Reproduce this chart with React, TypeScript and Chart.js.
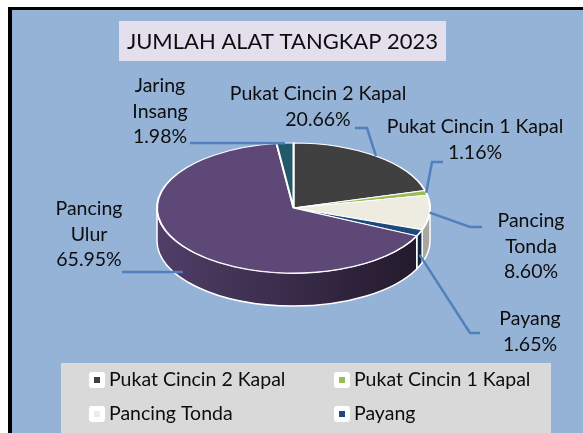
import React, { useEffect, useRef } from "react";
import { Chart, registerables } from "chart.js";

Chart.register(...registerables);

const TITLE = "JUMLAH ALAT TANGKAP 2023";
const categories = [
  "Pukat Cincin 2 Kapal",
  "Pukat Cincin 1 Kapal",
  "Pancing Tonda",
  "Payang",
  "Pancing Ulur",
  "Jaring Insang",
];
const values = [20.66, 1.16, 8.6, 1.65, 65.95, 1.98];

const topColors = ["#404040", "#9BBB59", "#EEECE1", "#1F497D", "#5E4878", "#215968"];
const sideLeft = ["#333333", "#7C9647", "#C9C7BE", "#1A3C66", "#503E68", "#1B4753"];
const sideRight = ["#1A1A1A", "#5D7035", "#A8A69E", "#10243F", "#211829", "#12323A"];

const FONT = "Lato, 'Open Sans', sans-serif";
const LABEL_SIZE = 19.5;
const TITLE_SIZE = 22;
const LINE_H = 25.5;

// label layout: text centre x, first baseline y, whether the name wraps, leader start, elbow, anchor drop
const labelLayout = [
  { cx: 318, y: 100, wrap: false, start: [355, 128], elbow: [367, 128], drop: 0 },
  { cx: 475, y: 133, wrap: false, start: [443, 162], elbow: [432, 162], drop: 0 },
  { cx: 531, y: 227, wrap: true, start: [482, 227], elbow: [470, 227], drop: 0 },
  { cx: 530, y: 325, wrap: true, start: [480, 333], elbow: [470, 333], drop: 22 },
  { cx: 89, y: 215, wrap: true, start: [122, 272], elbow: [150, 272], drop: 26 },
  { cx: 160, y: 92, wrap: true, start: [190, 143], elbow: [240, 143], drop: 0 },
];

export default function App() {
  const ref = useRef<HTMLCanvasElement>(null);

  useEffect(() => {
    const canvas = ref.current!;
    const W = 583;
    const H = 433;
    const R = 136.5;
    const K = 65 / 136.5;
    const CY_T = 208;
    const DEPTH = 33;
    const cy0 = H / 2;
    const mapY = (y: number) => CY_T + (y - cy0) * K;

    const background = {
      id: "background",
      beforeDraw(chart: any) {
        const ctx = chart.ctx as CanvasRenderingContext2D;
        ctx.save();
        ctx.fillStyle = "#ffffff";
        ctx.fillRect(0, 0, W, H);
        ctx.fillStyle = "#000000";
        ctx.fillRect(8, 7, W - 8, 3);
        ctx.fillRect(8, 7, 4, H - 7);
        ctx.fillStyle = "#95B3D7";
        ctx.fillRect(12, 10, W - 12, H - 10);

        // title box
        ctx.fillStyle = "#E4DFEC";
        ctx.fillRect(119, 21, 327, 40);
        ctx.fillStyle = "#0d0d0d";
        ctx.font = `${TITLE_SIZE}px ${FONT}`;
        ctx.textAlign = "center";
        ctx.textBaseline = "alphabetic";
        ctx.fillText(TITLE, 282.5, 49);

        // legend
        ctx.fillStyle = "#D9D9D9";
        ctx.fillRect(61, 363, 490, H - 363);
        ctx.font = `${LABEL_SIZE}px ${FONT}`;
        ctx.textAlign = "left";
        categories.forEach((name, i) => {
          const col = i % 2;
          const row = Math.floor(i / 2);
          const mx = col === 0 ? 89 : 334;
          const my = 372 + row * 34;
          if (my + 16 > H) return;
          ctx.fillStyle = "#ffffff";
          ctx.beginPath();
          (ctx as any).roundRect(mx, my, 16, 16, 3);
          ctx.fill();
          ctx.fillStyle = topColors[i];
          ctx.fillRect(mx + 5, my + 5, 6, 6);
          ctx.fillStyle = "#0d0d0d";
          ctx.fillText(name, mx + 20, my + 14);
        });
        ctx.restore();
      },
    };

    const pie3d = {
      id: "pie3d",
      beforeDatasetsDraw(chart: any) {
        const ctx = chart.ctx as CanvasRenderingContext2D;
        const arcs = chart.getDatasetMeta(0).data as any[];
        ctx.save();
        arcs.forEach((a, i) => {
          const a1 = Math.max(a.startAngle, 0);
          const a2 = Math.min(a.endAngle, Math.PI);
          if (a2 <= a1) return;
          const cx = a.x;
          const cy = mapY(a.y);
          const r = a.outerRadius;
          const ry = r * K;
          const g = ctx.createLinearGradient(cx - r, 0, cx + r, 0);
          g.addColorStop(0, sideLeft[i]);
          g.addColorStop(1, sideRight[i]);
          ctx.beginPath();
          ctx.ellipse(cx, cy, r, ry, 0, a1, a2, false);
          ctx.ellipse(cx, cy + DEPTH, r, ry, 0, a2, a1, true);
          ctx.closePath();
          ctx.fillStyle = g;
          ctx.fill();
          ctx.strokeStyle = "#ffffff";
          ctx.lineWidth = 1.5;
          ctx.stroke();
        });
        ctx.translate(0, CY_T);
        ctx.scale(1, K);
        ctx.translate(0, -cy0);
      },
      afterDatasetsDraw(chart: any) {
        chart.ctx.restore();
      },
    };

    const labels = {
      id: "labels3d",
      afterDraw(chart: any) {
        const ctx = chart.ctx as CanvasRenderingContext2D;
        const arcs = chart.getDatasetMeta(0).data as any[];
        ctx.save();
        arcs.forEach((a, i) => {
          const L = labelLayout[i];
          const lines = (L.wrap ? categories[i].split(" ") : [categories[i]]).concat(
            `${values[i].toFixed(2)}%`
          );
          const mid = (a.startAngle + a.endAngle) / 2;
          const ax = a.x + a.outerRadius * Math.cos(mid);
          const ay = mapY(a.y) + a.outerRadius * K * Math.sin(mid) + L.drop;
          ctx.strokeStyle = "#4F81BD";
          ctx.lineWidth = 2.5;
          ctx.lineJoin = "miter";
          ctx.beginPath();
          ctx.moveTo(L.start[0], L.start[1]);
          ctx.lineTo(L.elbow[0], L.elbow[1]);
          ctx.lineTo(ax, ay);
          ctx.stroke();

          ctx.fillStyle = "#0d0d0d";
          ctx.font = `${LABEL_SIZE}px ${FONT}`;
          ctx.textAlign = "center";
          ctx.textBaseline = "alphabetic";
          lines.forEach((t, j) => ctx.fillText(t, L.cx, L.y + j * LINE_H));
        });
        ctx.restore();
      },
    };

    const chart = new Chart(canvas, {
      type: "pie",
      data: {
        labels: categories,
        datasets: [
          {
            data: values,
            backgroundColor: topColors,
            borderColor: "#ffffff",
            borderWidth: 2,
            radius: R,
          } as any,
        ],
      },
      options: {
        responsive: false,
        maintainAspectRatio: false,
        animation: false,
        events: [],
        layout: { padding: { left: 157, right: 153, top: 0, bottom: 0 } },
        plugins: {
          legend: { display: false },
          title: { display: false },
          tooltip: { enabled: false },
        },
      },
      plugins: [background, pie3d, labels],
    });
    return () => chart.destroy();
  }, []);

  return (
    <canvas
      ref={ref}
      width={583}
      height={433}
      style={{ position: "fixed", left: 0, top: 0, width: 583, height: 433, display: "block" }}
    />
  );
}
